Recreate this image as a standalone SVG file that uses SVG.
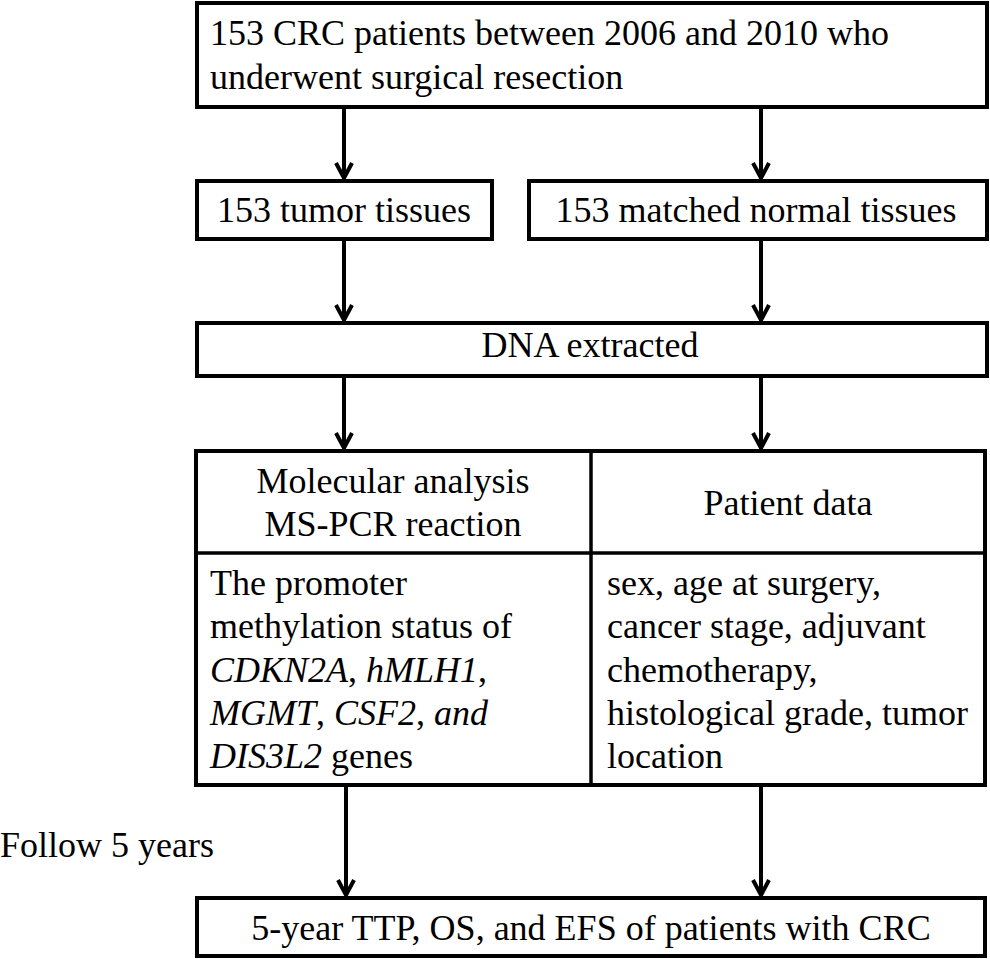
<svg xmlns="http://www.w3.org/2000/svg" width="990" height="959" viewBox="0 0 990 959">
<defs>
<style>
.box{fill:#fff;stroke:#000;stroke-width:4}
.div{stroke:#000;stroke-width:3.5;fill:none}
.t{font-family:'Liberation Serif','Times New Roman',Times,'DejaVu Serif',serif;font-size:36px;fill:#000}
.c{text-anchor:middle}
.i{font-style:italic}
.arr{stroke:#000;stroke-width:4;fill:none;marker-end:url(#ah)}
</style>
<marker id="ah" markerUnits="userSpaceOnUse" markerWidth="30" markerHeight="30" refX="0" refY="0" orient="auto" overflow="visible">
<path d="M-15,-8 L0,0 L-15,8" fill="none" stroke="#000" stroke-width="4" stroke-linejoin="miter"/>
</marker>
</defs>
<rect width="990" height="959" fill="#fff"/>
<g id="connectors">
<line class="arr" x1="344" y1="107" x2="344" y2="178"/>
<line class="arr" x1="761" y1="107" x2="761" y2="178"/>
<line class="arr" x1="344" y1="239" x2="344" y2="320"/>
<line class="arr" x1="761" y1="239" x2="761" y2="320"/>
<line class="arr" x1="344" y1="376" x2="344" y2="448"/>
<line class="arr" x1="761" y1="376" x2="761" y2="448"/>
<line class="arr" x1="346" y1="785" x2="346" y2="895"/>
<line class="arr" x1="761" y1="785" x2="761" y2="895"/>
</g>
<g id="n_patients">
<rect class="box" x="197" y="3" width="790" height="104"/>
<text class="t" x="210" y="45">153 CRC patients between 2006 and 2010 who</text>
<text class="t" x="210" y="89">underwent surgical resection</text>
</g>
<g id="n_tumor">
<rect class="box" x="197" y="181" width="295" height="58"/>
<text class="t c" x="344" y="222">153 tumor tissues</text>
</g>
<g id="n_normal">
<rect class="box" x="529" y="181" width="458" height="58"/>
<text class="t c" x="756" y="222">153 matched normal tissues</text>
</g>
<g id="n_dna">
<rect class="box" x="197" y="323" width="790" height="53"/>
<text class="t c" x="590" y="357">DNA extracted</text>
</g>
<g id="n_table">
<rect class="box" x="196" y="451" width="789" height="334"/>
<line class="div" x1="591" y1="451" x2="591" y2="785"/>
<line class="div" x1="196" y1="553" x2="985" y2="553"/>
<text class="t c" x="393" y="493">Molecular analysis</text>
<text class="t c" x="393" y="536">MS-PCR reaction</text>
<text class="t c" x="788" y="515">Patient data</text>
<text class="t" x="210" y="595">The promoter</text>
<text class="t" x="210" y="638">methylation status of</text>
<text class="t" x="210" y="682"><tspan class="i">CDKN2A</tspan>, <tspan class="i">hMLH1</tspan>,</text>
<text class="t" x="210" y="725"><tspan class="i">MGMT</tspan>, <tspan class="i">CSF2</tspan>, <tspan class="i">and</tspan></text>
<text class="t" x="210" y="768"><tspan class="i">DIS3L2</tspan> genes</text>
<text class="t" x="607" y="595">sex, age at surgery,</text>
<text class="t" x="607" y="638">cancer stage, adjuvant</text>
<text class="t" x="607" y="682">chemotherapy,</text>
<text class="t" x="607" y="725">histological grade, tumor</text>
<text class="t" x="607" y="768">location</text>
</g>
<g id="n_follow">
<text class="t" x="0" y="857">Follow 5 years</text>
</g>
<g id="n_outcome">
<rect class="box" x="197" y="898" width="788" height="58"/>
<text class="t c" x="591" y="940">5-year TTP, OS, and EFS of patients with CRC</text>
</g>
</svg>
